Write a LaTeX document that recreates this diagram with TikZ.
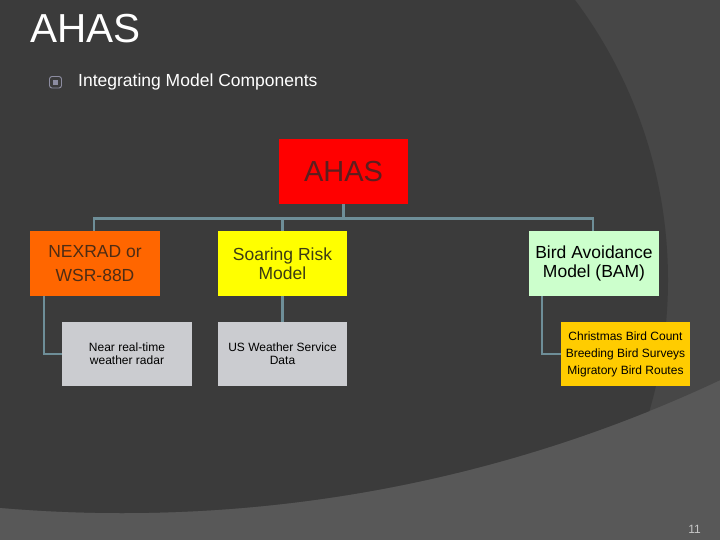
\documentclass[tikz,border=0pt]{standalone}
\usepackage{fontspec}
\setmainfont{Liberation Sans}
\usetikzlibrary{calc}
\definecolor{bgdark}{HTML}{3B3B3B}
\definecolor{bgmid}{HTML}{474747}
\definecolor{bglight}{HTML}{585858}
\definecolor{linkblue}{HTML}{6E8E98}
\definecolor{bulletgray}{HTML}{8C8CA0}
\definecolor{ahasred}{HTML}{FF0000}
\definecolor{ahastext}{HTML}{5C1E1E}
\definecolor{nexorange}{HTML}{FF6600}
\definecolor{nextext}{HTML}{4E2C14}
\definecolor{soaryellow}{HTML}{FFFF00}
\definecolor{soartext}{HTML}{3C3C14}
\definecolor{bamgreen}{HTML}{CCFFCC}
\definecolor{datagray}{HTML}{CBCCD0}
\definecolor{birdgold}{HTML}{FFCC00}
\definecolor{numgray}{HTML}{C8C8C8}
\begin{document}
\begin{tikzpicture}[x=1pt,y=-1pt,line join=miter,
  box/.style={rectangle,minimum width=130pt,minimum height=65pt,inner sep=0pt,align=center,font=\fontsize{17.5}{19}\selectfont},
  subbox/.style={box,minimum height=64pt,font=\fontsize{12}{13}\selectfont},
  link/.style={draw=linkblue,line width=2.8pt}]
  \useasboundingbox (0,0) rectangle (720,540);
  % 背景：两个大圆
  \fill[bglight] (0,0) rectangle (720,540);
  \begin{scope}
    \clip (0,0) rectangle (720,540);
    \fill[bgmid] (122,-896) circle (1409pt);
    \clip (122,-896) circle (1409pt);
    \fill[bgdark] (200,280) circle (468pt);
  \end{scope}
  % 标题与要点
  \node[anchor=base west,text=white,inner sep=0pt,font=\fontsize{40.5}{40}\selectfont] (title) at (30,43) {AHAS};
  \draw[bulletgray,line width=0.9pt,rounded corners=2.5pt] (49.5,76.5) rectangle (61.5,88);
  \fill[bulletgray] (53.2,79.9) rectangle (57.8,84.6);
  \node[anchor=base west,text=white,inner sep=0pt,font=\fontsize{17.5}{17}\selectfont] (point) at (78,87) {Integrating Model Components};
  % 方框
  \node[box,minimum width=129pt,fill=ahasred,text=ahastext,font=\fontsize{29}{29}\selectfont] (ahas) at (343.5,171.5) {AHAS};
  \node[box,fill=nexorange,text=nextext,font=\fontsize{17.5}{24}\selectfont] (nexrad) at (95,263.5) {NEXRAD or\\WSR-88D};
  \node[box,minimum width=129pt,fill=soaryellow,text=soartext] (soar) at (282.5,263.5) {Soaring Risk\\Model};
  \node[box,fill=bamgreen] (bam) at (594,263.5) {Bird Avoidance\\Model (BAM)};
  \node[subbox,fill=datagray] (radar) at (127,354) {Near real-time\\weather radar};
  \node[subbox,minimum width=129pt,fill=datagray] (usws) at (282.5,354) {US Weather Service\\Data};
  \node[subbox,minimum width=129pt,fill=birdgold,font=\fontsize{12}{17}\selectfont] (counts) at (625.5,354) {Christmas Bird Count\\Breeding Bird Surveys\\Migratory Bird Routes};
  % 连线
  \path (ahas.south) ++(0,14) coordinate (bus);
  \draw[link] (ahas.south) -- (bus);
  \draw[link] ([xshift=-1pt]nexrad.north) |- (bus);
  \draw[link] ([xshift=-1pt]bam.north) |- (bus);
  \draw[link] (soar.north) -- (soar.north |- bus);
  \draw[link] ([xshift=-51pt]nexrad.south) |- (radar.west);
  \draw[link] (soar.south) -- (usws.north);
  \draw[link] ([xshift=-52pt]bam.south) |- (counts.west);
  % 页码
  \node[anchor=base east,text=numgray,inner sep=0pt,font=\fontsize{12}{12}\selectfont] (pagenum) at (701,533) {11};
\end{tikzpicture}
\end{document}
